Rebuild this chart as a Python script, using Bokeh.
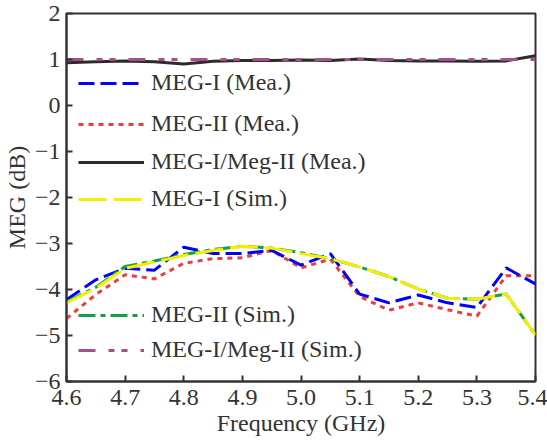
from bokeh.plotting import figure
from bokeh.models import Legend, LegendItem, FixedTicker, CustomJSTickFormatter, Range1d
from bokeh.embed import file_html
from bokeh.resources import INLINE

freq = [4.6, 4.65, 4.7, 4.75, 4.8, 4.85, 4.9, 4.95, 5.0, 5.05, 5.1, 5.15, 5.2, 5.25, 5.3, 5.35, 5.4]
meg1_mea = [-4.22, -3.79, -3.54, -3.58, -3.08, -3.22, -3.22, -3.15, -3.47, -3.22, -4.10, -4.29, -4.12, -4.29, -4.39, -3.53, -3.88]
meg2_mea = [-4.63, -4.11, -3.68, -3.77, -3.43, -3.33, -3.31, -3.15, -3.53, -3.34, -4.15, -4.45, -4.29, -4.44, -4.58, -3.70, -3.70]
ratio_mea = [0.93, 0.95, 0.97, 0.95, 0.90, 0.96, 0.98, 0.98, 0.99, 0.98, 1.01, 0.98, 0.97, 0.97, 0.96, 0.97, 1.08]
meg1_sim = [-4.29, -3.97, -3.54, -3.40, -3.26, -3.15, -3.06, -3.10, -3.22, -3.33, -3.51, -3.72, -3.99, -4.19, -4.21, -4.10, -4.99]
meg2_sim = [-4.27, -3.95, -3.50, -3.38, -3.24, -3.13, -3.06, -3.10, -3.20, -3.33, -3.51, -3.72, -3.99, -4.19, -4.21, -4.10, -4.99]
ratio_sim = [1.0] * 17

x_ticks = [4.6, 4.7, 4.8, 4.9, 5.0, 5.1, 5.2, 5.3, 5.4]
y_ticks = [-6, -5, -4, -3, -2, -1, 0, 1, 2]

FONT = "Liberation Serif"
TXT = "#333333"

p = figure(width=547, height=443, output_backend="svg", toolbar_location=None,
           x_range=Range1d(4.6, 5.4), y_range=Range1d(-6, 2),
           min_border_left=65, min_border_right=12, min_border_top=13, min_border_bottom=62)
p.grid.visible = False
p.outline_line_color = TXT
p.outline_line_width = 2
p.background_fill_color = "white"
p.border_fill_color = "white"

for ax in (p.xaxis[0], p.yaxis[0]):
    ax.axis_line_color = TXT
    ax.axis_line_width = 2
    ax.major_tick_line_color = TXT
    ax.major_tick_line_width = 2
    ax.major_tick_in = 6
    ax.major_tick_out = 0
    ax.minor_tick_line_color = None
    ax.major_label_text_font = FONT
    ax.major_label_text_font_size = "24px"
    ax.major_label_text_color = TXT
    ax.axis_label_text_font = FONT
    ax.axis_label_text_font_size = "24px"
    ax.axis_label_text_color = TXT
    ax.axis_label_text_font_style = "normal"

p.xaxis.ticker = FixedTicker(ticks=x_ticks)
p.yaxis.ticker = FixedTicker(ticks=y_ticks)
p.xaxis.formatter = CustomJSTickFormatter(code="return tick.toFixed(1);")
p.yaxis.formatter = CustomJSTickFormatter(
    code="return tick < 0 ? '\u2212' + Math.abs(Math.round(tick)) : String(Math.round(tick));")
p.xaxis.axis_label = "Frequency (GHz)"
p.yaxis.axis_label = "MEG (dB)"
p.xaxis.major_label_standoff = 8
p.yaxis.major_label_standoff = 6
p.xaxis.axis_label_standoff = 2
p.yaxis.axis_label_standoff = 2

LW = 3
r_red = p.line(freq, meg2_mea, line_color="#f03c3c", line_width=LW, line_dash="5 5")
r_blue = p.line(freq, meg1_mea, line_color="#0000ff", line_width=LW, line_dash="16 6")
r_green = p.line(freq, meg2_sim, line_color="#0fa04a", line_width=LW, line_dash="17 5 5 5")
r_yellow = p.line(freq, meg1_sim, line_color="#f5ee00", line_width=LW, line_dash="28 7")
r_black = p.line(freq, ratio_mea, line_color="#2b2b2b", line_width=LW)
r_pink = p.line(freq, ratio_sim, line_color="#a4508c", line_width=LW, line_dash="17 13 6 7 6 13")

entries = [
    ("MEG-I (Mea.)", r_blue, 285),
    ("MEG-II (Mea.)", r_red, 244),
    ("MEG-I/Meg-II (Mea.)", r_black, 206),
    ("MEG-I (Sim.)", r_yellow, 169),
    ("MEG-II (Sim.)", r_green, 53),
    ("MEG-I/Meg-II (Sim.)", r_pink, 18),
]
for label, r, yoff in entries:
    lg = Legend(items=[LegendItem(label=label, renderers=[r])], location=(12, yoff),
                border_line_color=None, background_fill_alpha=0, padding=0, margin=0,
                spacing=0, glyph_width=66, glyph_height=20, label_height=20,
                label_standoff=7, label_text_font=FONT, label_text_font_size="24px",
                label_text_color=TXT)
    p.add_layout(lg, "center")

open("out.html", "w").write(file_html(p, INLINE))
